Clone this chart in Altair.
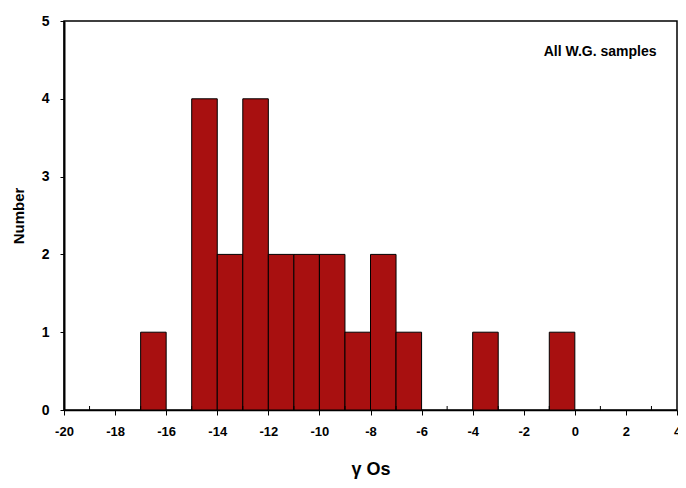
import altair as alt
import pandas as pd

bin_start = [-17, -15, -14, -13, -12, -11, -10, -9, -8, -7, -4, -1]
counts = [1, 4, 2, 4, 2, 2, 2, 1, 2, 1, 1, 1]
minor_ticks = [-19, -17, -15, -13, -11, -9, -7, -5, -3, -1, 1, 3]

bars_df = pd.DataFrame({"start": bin_start, "end": [b + 1 for b in bin_start], "count": counts})
minor_df = pd.DataFrame({"v": minor_ticks})

FONT = "Liberation Sans"
W, H = 613, 389

xscale = alt.Scale(domain=[-20, 4], nice=False, zero=False)
yscale = alt.Scale(domain=[0, 5], nice=False)

bars = alt.Chart(bars_df).mark_bar(color="#A81010", stroke="black", strokeWidth=1).encode(
    x=alt.X("start:Q", scale=xscale,
            axis=alt.Axis(values=list(range(-20, 5, 2)), title="γ Os", labelFont=FONT,
                          labelExpr="'' + datum.value",
                          labelFontWeight="bold", labelFontSize=13, labelColor="black",
                          titleFont=FONT, titleFontWeight="bold", titleFontSize=18,
                          titleColor="black", titlePadding=22, tickSize=5, tickColor="black",
                          domainColor="black", domainWidth=1.5, labelPadding=10, grid=False,
                          labelFlush=False)),
    x2="end:Q",
    y=alt.Y("count:Q", scale=yscale,
            axis=alt.Axis(values=[0, 1, 2, 3, 4, 5], title="Number", labelFont=FONT,
                          labelExpr="'' + datum.value",
                          labelFontWeight="bold", labelFontSize=14, labelColor="black",
                          titleFont=FONT, titleFontWeight="bold", titleFontSize=15,
                          titleColor="black", titlePadding=15, tickSize=4, tickColor="black",
                          domainColor="black", domainWidth=2, labelPadding=11, grid=False)),
    y2=alt.datum(0),
)

minor = alt.Chart(minor_df).mark_rule(color="black", strokeWidth=1).encode(
    x=alt.X("v:Q", scale=xscale),
    y=alt.value(H),
    y2=alt.value(H - 4),
)

label = alt.Chart(pd.DataFrame({"t": ["All W.G. samples"]})).mark_text(
    align="right", baseline="middle", font=FONT, fontWeight="bold", fontSize=14, color="black"
).encode(
    x=alt.datum(3.2, scale=xscale),
    y=alt.datum(4.6, scale=yscale),
    text="t:N",
)

chart = alt.layer(bars, minor, label).properties(
    width=W, height=H,
    autosize=alt.AutoSizeParams(type="none"),
    padding={"left": 56, "top": 13, "right": 1, "bottom": 70},
    background="white",
).configure_view(stroke="black", strokeWidth=1.5)

chart.save("out.html", embed_options={"renderer": "svg", "actions": False})
